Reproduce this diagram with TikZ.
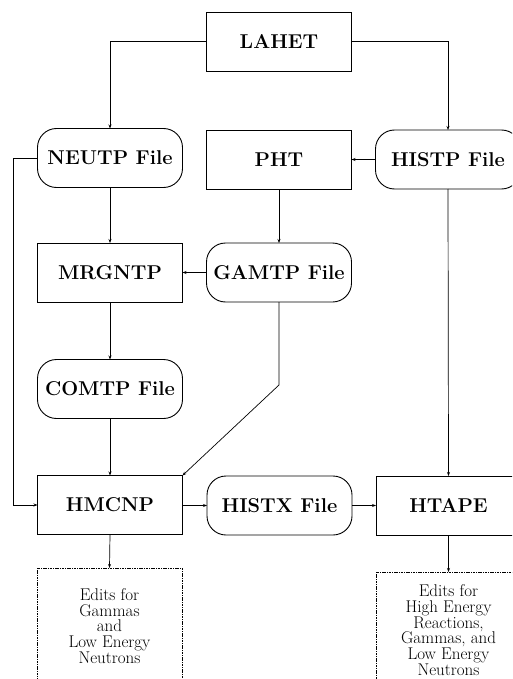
\documentclass[tikz,border=0pt]{standalone}
\usetikzlibrary{arrows.meta}
\begin{document}
\begin{tikzpicture}[x=1pt,y=-1pt,
  every node/.style={inner sep=0pt, outer sep=0pt},
  procbox/.style={draw, line width=0.9pt, minimum width=145pt, minimum height=59pt, font=\fontsize{20}{23}\selectfont\bfseries},
  filebox/.style={procbox, rounded corners=19pt},
  editbox/.style={draw, line width=0.8pt, dash pattern=on 1.6pt off 0.8pt, minimum width=145pt, minimum height=116pt, align=center, font=\fontsize{17}{15.8}\selectfont},
  conn/.style={line width=0.7pt, -{Stealth[length=4pt,width=3pt]}},
  line/.style={line width=0.7pt}]
\useasboundingbox (0,0) rectangle (512,679);
\clip (0,0) rectangle (512,679);
\node[procbox] (lahet) at (279,41.5) {LAHET};
\node[filebox] (neutp) at (110,158) {NEUTP File};
\node[procbox] (pht) at (279,159.5) {PHT};
\node[filebox] (histp) at (448,159.5) {HISTP File};
\node[procbox] (mrgntp) at (110,272.5) {MRGNTP};
\node[filebox] (gamtp) at (279,272.5) {GAMTP File};
\node[filebox] (comtp) at (110,389) {COMTP File};
\node[procbox] (hmcnp) at (110,505) {HMCNP};
\node[filebox] (histx) at (279.5,505.5) {HISTX File};
\node[procbox] (htape) at (448.5,505.5) {HTAPE};
\node[editbox] (edl) at (109.5,626) {Edits for\\Gammas\\and\\Low Energy\\Neutrons};
\node[editbox] (edr) at (448.5,630) {Edits for\\High Energy\\Reactions,\\Gammas, and\\Low Energy\\Neutrons};
\coordinate (bend) at (279,385);
\coordinate (leftx) at (13,158);
\draw[conn] (lahet.west) -| (neutp.north);
\draw[conn] (lahet.east) -| (histp.north);
\draw[conn] (histp.west) -- (pht.east);
\draw[conn] (neutp.south) -- (mrgntp.north);
\draw[conn] (pht.south) -- (gamtp.north);
\draw[conn] (gamtp.west) -- (mrgntp.east);
\draw[conn] (mrgntp.south) -- (comtp.north);
\draw[conn] (gamtp.south) -- (bend) -- (hmcnp.north east);
\draw[conn] (comtp.south) -- (hmcnp.north);
\draw[conn] (neutp.west) -- (leftx) |- (hmcnp.west);
\draw[conn] (hmcnp.east) -- (histx.west -| hmcnp.east) -- (histx.west);
\draw[conn] (histx.east) -- (htape.west);
\draw[conn] (histp.south) -- (htape.north);
\draw[conn] (hmcnp.south) -- (edl.north);
\draw[conn] (htape.south) -- (edr.north);
\end{tikzpicture}
\end{document}
